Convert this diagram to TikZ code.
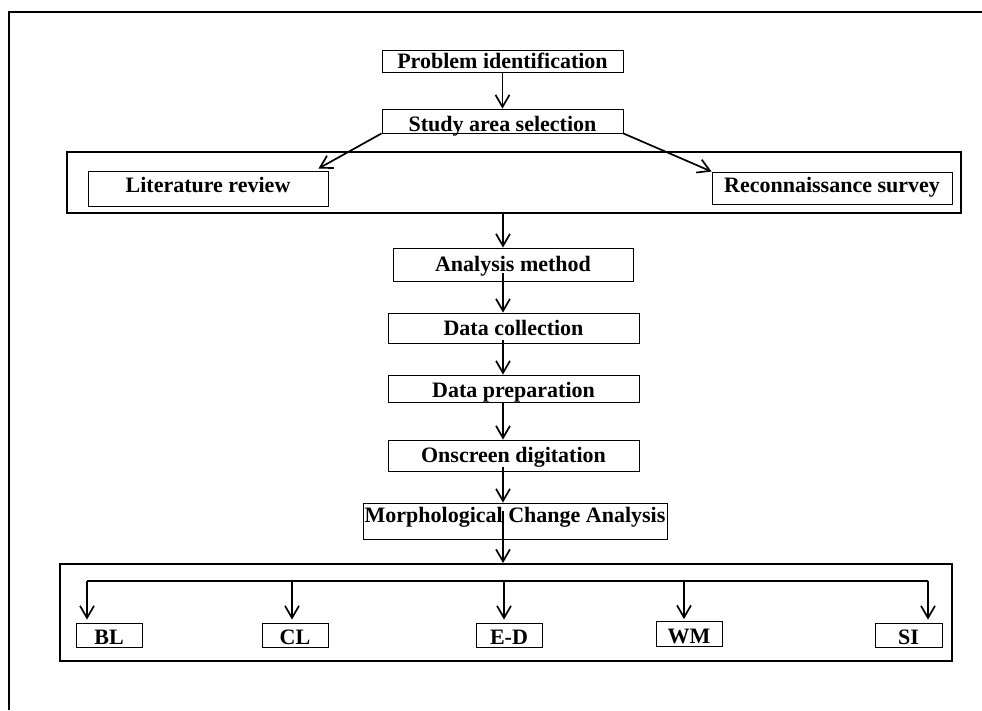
\documentclass[tikz,border=0pt]{standalone}
\usepackage{fontspec}
\setmainfont{Liberation Serif}
\usetikzlibrary{arrows.meta}
\begin{document}
\begin{tikzpicture}[x=1pt,y=-1pt,
  box/.style={draw, line width=0.9pt, inner sep=0pt, font=\fontsize{22}{24}\selectfont\bfseries, text depth=0pt},
  frame/.style={draw, line width=2pt, inner sep=0pt},
  arr/.style={line width=1.7pt, -{Straight Barb[length=12pt,width=14pt]}},
  bus/.style={line width=1.7pt},
]
\useasboundingbox (0,0) rectangle (982,710);
% outer frame (top and left edges)
\draw[line width=2.5pt] (8,12) -- (982,12);
\draw[line width=1.5pt] (9,11) -- (9,710);

% frames
\node[frame, minimum width=894pt, minimum height=61pt] (f1) at (514,182.5) {};
\node[frame, minimum width=892pt, minimum height=97pt] (f2) at (506,612.5) {};

% boxes
\node[box, minimum width=241pt, minimum height=22pt, text height=14pt] (p) at (502.5,61) {Problem identification};
\node[box, minimum width=241pt, minimum height=24pt, text height=20pt] (s) at (502.5,121) {Study area selection};
\node[box, minimum width=240pt, minimum height=35pt, text height=7pt] (lit) at (208,188.5) {Literature review};
\node[box, minimum width=240pt, minimum height=32pt, text height=8pt] (rec) at (832,188) {Reconnaissance survey};
\node[box, minimum width=240pt, minimum height=33pt, text height=13pt] (am) at (513,264.5) {Analysis method};
\node[box, minimum width=251pt, minimum height=30pt, text height=14pt] (dc) at (513.5,328) {Data collection};
\node[box, minimum width=251pt, minimum height=27pt, text height=18pt] (dp) at (513.5,388.5) {Data preparation};
\node[box, minimum width=251pt, minimum height=31pt, text height=13pt] (od) at (513.5,455.5) {Onscreen digitation};
\node[box, minimum width=304pt, minimum height=36pt, text height=2pt] (mca) at (515,521) {Morphological Change Analysis};

\node[box, minimum width=66pt, minimum height=24pt, text height=18pt] (bl) at (109,635) {BL};
\node[box, minimum width=66pt, minimum height=24pt, text height=18pt] (cl) at (295,635) {CL};
\node[box, minimum width=66pt, minimum height=24pt, text height=18pt] (ed) at (509,635) {E-D};
\node[box, minimum width=66pt, minimum height=25pt, text height=18pt] (wm) at (689,634) {WM};
\node[box, minimum width=67pt, minimum height=24pt, text height=18pt] (si) at (908.5,635) {SI};

% connectors
\coordinate (ax) at (503,0);
\draw[arr] (p.south) -- (s.north);
\draw[arr] (s.south west) -- ([xshift=-10pt,yshift=2pt]lit.north east);
\draw[arr] (s.south east) -- (rec.north west);
\draw[arr] (ax |- f1.south) -- (ax |- am.north);
\draw[arr, shorten <=-8pt] (ax |- am.south) -- (ax |- dc.north);
\draw[arr, shorten <=-3pt] (ax |- dc.south) -- (ax |- dp.north);
\draw[arr] (ax |- dp.south) -- (ax |- od.north);
\draw[arr, shorten <=-4pt] (ax |- od.south) -- (ax |- mca.north);
\draw[arr, shorten <=-28pt] (ax |- mca.south) -- (ax |- f2.north);

% bus
\coordinate (b1) at (87,581);
\coordinate (b2) at (292,581);
\coordinate (b3) at (504,581);
\coordinate (b4) at (684,581);
\coordinate (b5) at (928,581);
\draw[bus] (b1) -- (b5);
\draw[arr, shorten >=3pt] (b1) -- (b1 |- bl.north);
\draw[arr, shorten >=3pt] (b2) -- (b2 |- cl.north);
\draw[arr, shorten >=3pt] (b3) -- (b3 |- ed.north);
\draw[arr, shorten >=2pt] (b4) -- (b4 |- wm.north);
\draw[arr, shorten >=3pt] (b5) -- (b5 |- si.north);
\end{tikzpicture}
\end{document}
